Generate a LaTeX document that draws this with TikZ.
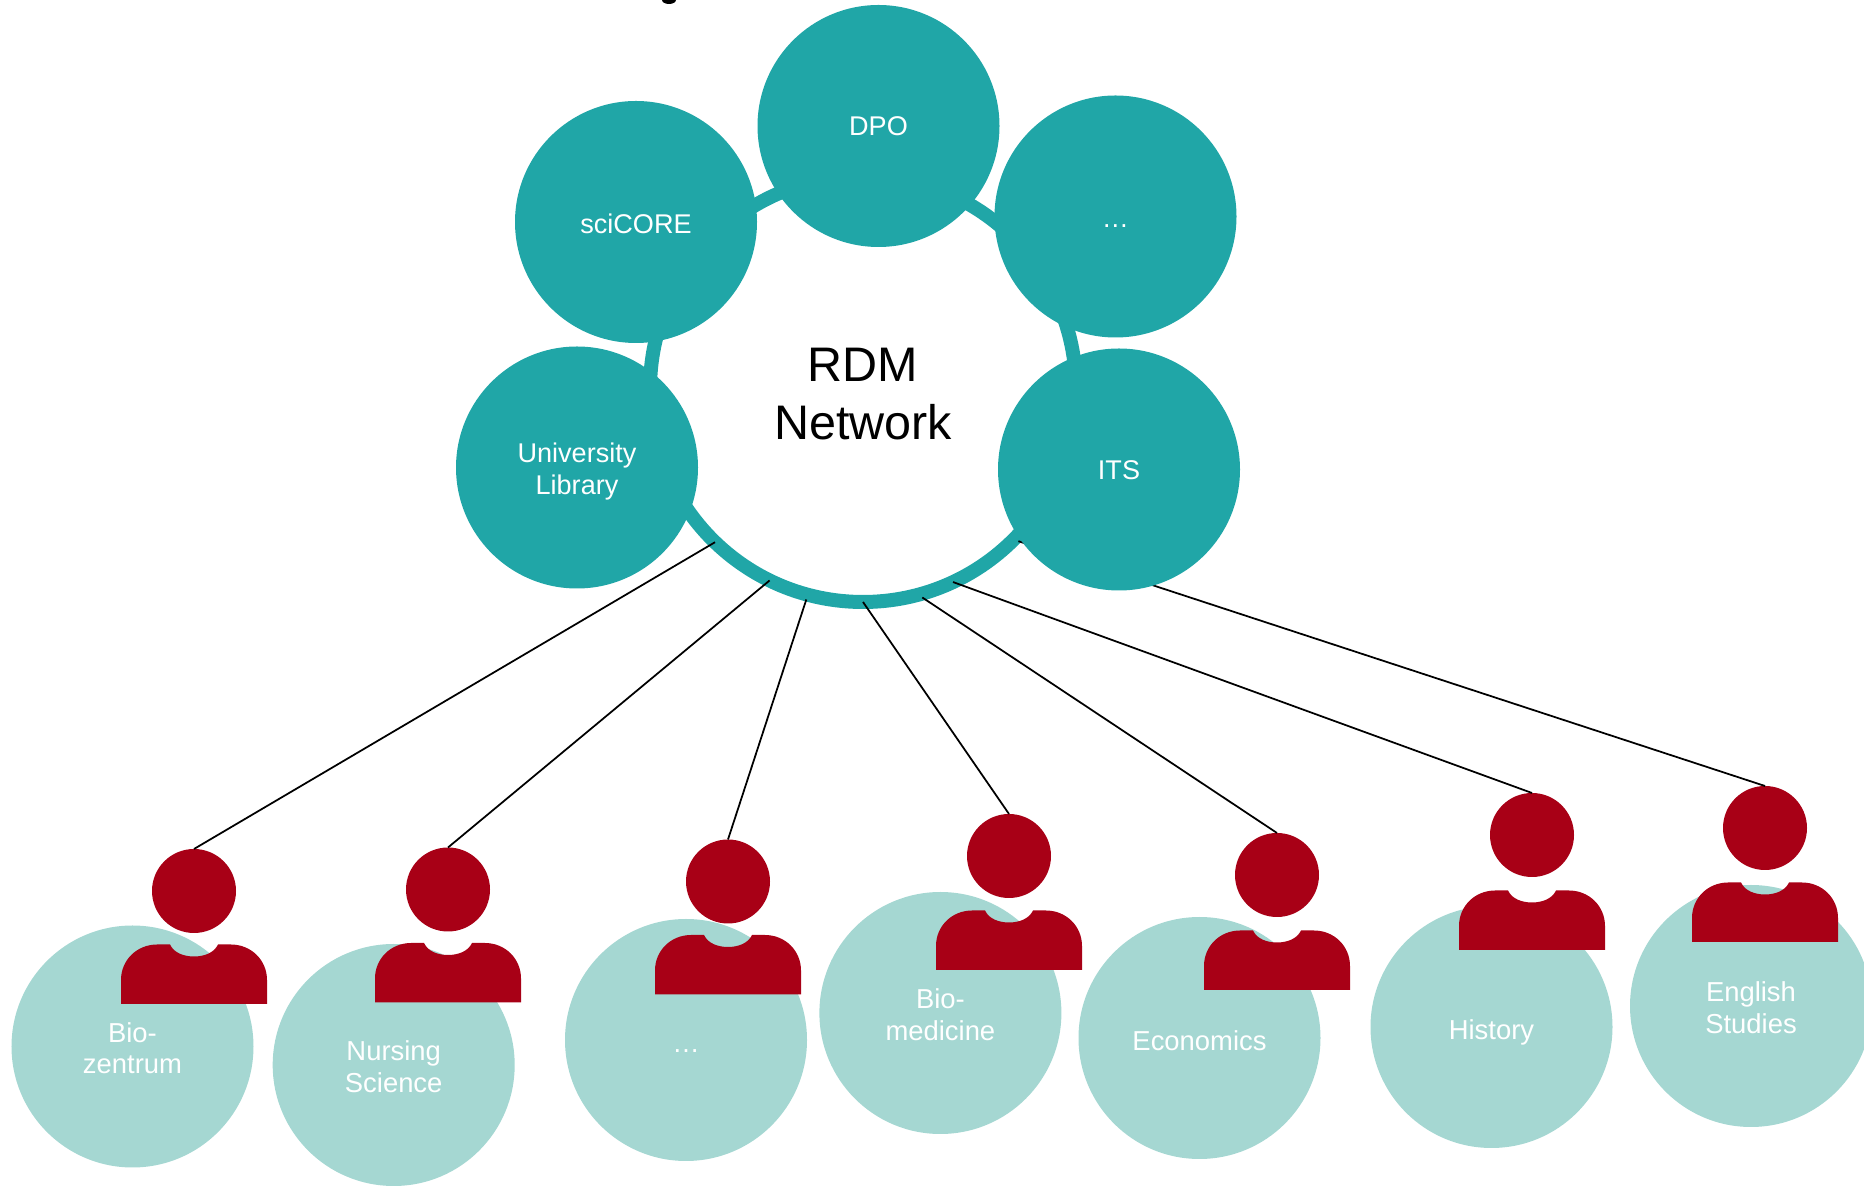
\documentclass[tikz,border=0pt]{standalone}
\usepackage{fontspec}
\setmainfont{Liberation Sans}
\definecolor{unitteal}{RGB}{32,166,167}
\definecolor{deptmint}{RGB}{165,215,210}
\definecolor{staffred}{RGB}{168,0,22}
\tikzset{
  unit/.style={circle,fill=unitteal,text=white,minimum size=2.42cm,inner sep=0pt,outer sep=0pt,align=center,text height=5.5pt,text depth=0pt,font=\fontsize{7.7}{8.95}\selectfont},
  dept/.style={unit,fill=deptmint,text height=7.3pt,font=\fontsize{7.8}{8.95}\selectfont},
  twolines/.style={text height=15.6pt},
  rdmring/.style={circle,draw=unitteal,line width=0.14cm,minimum size=4.26cm,inner sep=0pt,outer sep=0pt,align=center,text height=29pt,text depth=0pt,font=\fontsize{13.8}{16.5}\selectfont},
  head/.style={circle,fill=staffred,minimum size=0.84cm,inner sep=0pt,outer sep=0pt},
  link/.style={line width=0.5pt},
  farlink/.style={link,shorten <=0.05cm},
  staffbody/.pic={
    \fill[staffred] (-0.73,-1.13) -- (-0.73,-0.89) .. controls (-0.73,-0.69) and (-0.57,-0.535) .. (-0.37,-0.535) -- (-0.24,-0.535)
      .. controls (-0.2,-0.62) and (-0.1,-0.655) .. (0,-0.655) .. controls (0.1,-0.655) and (0.2,-0.62) .. (0.24,-0.535)
      -- (0.37,-0.535) .. controls (0.57,-0.535) and (0.73,-0.69) .. (0.73,-0.89) -- (0.73,-1.13) -- cycle;
  }
}
\begin{document}
\begin{tikzpicture}
\useasboundingbox (0,0) rectangle (18.64,11.86);
\fill[black] (6.69,11.86) ellipse (0.07 and 0.04);
\node[dept,twolines] (biozentrum) at (1.325,1.395) {Bio-\\zentrum};
\node[dept,twolines] (nursing) at (3.937,1.21) {Nursing\\Science};
\node[dept] (moredept) at (6.86,1.46) {\dots};
\node[dept,twolines] (biomedicine) at (9.404,1.73) {Bio-\\medicine};
\node[dept] (economics) at (11.995,1.48) {Economics};
\node[dept] (history) at (14.915,1.59) {History};
\node[dept,twolines] (english) at (17.51,1.80) {English\\Studies};
\node[rdmring] (rdm) at (8.63,7.97) {RDM\\Network};
\node[head] (headbio) at (1.94,2.95) {};
\node[head] (headnursing) at (4.48,2.965) {};
\node[head] (headmore) at (7.28,3.045) {};
\node[head] (headmedicine) at (10.09,3.30) {};
\node[head] (headeconomics) at (12.77,3.11) {};
\node[head] (headhistory) at (15.32,3.51) {};
\node[head] (headenglish) at (17.65,3.58) {};
\draw[link] (rdm.226) -- (headbio.north);
\draw[link] (rdm.244) -- (headnursing.north);
\draw[farlink] (rdm.255) -- (headmore.north);
\draw[link] (rdm.270) -- (headmedicine.north);
\draw[farlink] (rdm.285) -- (headeconomics.north);
\draw[link] (rdm.295) -- (headhistory.north);
\draw[farlink] (rdm.315) -- (headenglish.north);
\node[unit,text height=15.1pt] (library) at (5.77,7.185) {University\\Library};
\node[unit,text height=6.5pt] (scicore) at (6.36,9.64) {sciCORE};
\node[unit] (dpo) at (8.785,10.60) {DPO};
\node[unit,text height=6pt] (moreunit) at (11.155,9.695) {\dots};
\node[unit] (its) at (11.19,7.165) {ITS};
\pic at (headbio) {staffbody};
\pic at (headnursing) {staffbody};
\pic at (headmore) {staffbody};
\pic at ([yshift=-0.01cm]headmedicine) {staffbody};
\pic at ([yshift=-0.02cm]headeconomics) {staffbody};
\pic at ([yshift=-0.02cm]headhistory) {staffbody};
\pic at ([yshift=-0.01cm]headenglish) {staffbody};
\end{tikzpicture}
\end{document}
